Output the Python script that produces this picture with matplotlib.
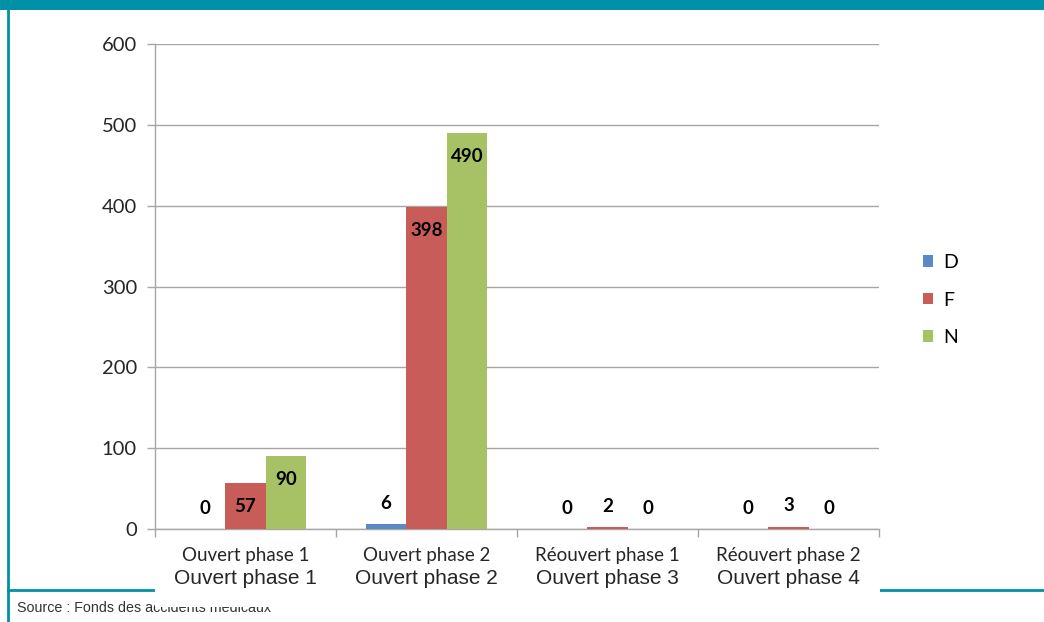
import matplotlib
matplotlib.use("Agg")
import matplotlib.pyplot as plt
from matplotlib.patches import Rectangle
from matplotlib.lines import Line2D
import numpy as np

# series per category
categories_top = ["Ouvert phase 1", "Ouvert phase 2", "Réouvert phase 1", "Réouvert phase 2"]
categories_bottom = ["Ouvert phase 1", "Ouvert phase 2", "Ouvert phase 3", "Ouvert phase 4"]
series_names = ["D", "F", "N"]
values_d = [0, 6, 0, 0]
values_f = [57, 398, 2, 3]
values_n = [90, 490, 0, 0]
y_ticks = [0, 100, 200, 300, 400, 500, 600]
source_text = "Source : Fonds des accidents médicaux"

colors = ["#5A8AC6", "#C75C59", "#A6C265"]
teal = "#0090A8"
grid_gray = "#A6A6A6"
W, H = 1044, 622

fig = plt.figure(figsize=(W / 100, H / 100), dpi=100)
fig.patch.set_facecolor("white")


def fx(px):
    return px / W


def fy(py):
    return 1 - py / H


# frame decoration: top band, left rule, bottom rule
fig.add_artist(Rectangle((0, fy(10)), 1, 10 / H, transform=fig.transFigure,
                         facecolor=teal, edgecolor="none", zorder=0))
fig.add_artist(Line2D([fx(7.5), fx(7.5)], [0, 1], transform=fig.transFigure,
                      color=teal, lw=2, zorder=0))
fig.add_artist(Line2D([fx(7.5), 1], [fy(590), fy(590)], transform=fig.transFigure,
                      color=teal, lw=2, zorder=0))

ax = fig.add_axes([fx(155), fy(529), fx(879) - fx(155), fy(44) - fy(529)])
ax.set_facecolor("none")

x = np.arange(len(categories_top))
width = 0.224
all_series = [values_d, values_f, values_n]
offsets = [-width, 0, width]

for vals, off, col, name in zip(all_series, offsets, colors, series_names):
    bars = ax.bar(x + off, vals, width, color=col, label=name, zorder=3)
    for rect, v in zip(bars, vals):
        cx = rect.get_x() + rect.get_width() / 2
        # tall bars get the value inside the top, short ones just above
        dy = -17 if v >= 30 else 15
        ax.annotate(str(v), (cx, v), xytext=(0, dy), textcoords="offset points",
                    ha="center", va="center", fontsize=13.5, fontweight="bold",
                    family="Lato", color="black", zorder=5)

ax.set_xlim(-0.5, 3.5)
ax.set_ylim(0, 600)
ax.set_yticks(y_ticks)
ax.set_yticklabels([str(t) for t in y_ticks], family="Lato", fontsize=14.5, color="#262626")
ax.yaxis.grid(True, color=grid_gray, lw=1, zorder=0)
ax.set_axisbelow(True)

ax.set_xticks(np.arange(-0.5, 4, 1))
ax.set_xticklabels([])
ax.tick_params(axis="x", direction="out", length=6, color=grid_gray, width=1)
ax.tick_params(axis="y", direction="out", length=6, color=grid_gray, width=1, pad=7)

for side in ["top", "right"]:
    ax.spines[side].set_visible(False)
for side in ["left", "bottom"]:
    ax.spines[side].set_color(grid_gray)
    ax.spines[side].set_linewidth(1)

# white panel behind the category labels
fig.add_artist(Rectangle((fx(155), fy(607)), fx(880) - fx(155), (607 - 540) / H,
                         transform=fig.transFigure, facecolor="white",
                         edgecolor="none", zorder=2))

for i, (top, bottom) in enumerate(zip(categories_top, categories_bottom)):
    xf = fx(155 + (i + 0.5) * 181)
    fig.text(xf, fy(556), top, ha="center", va="center", family="Lato",
             fontsize=13.5, color="#262626", zorder=4)
    fig.text(xf, fy(578), bottom, ha="center", va="center", family="Liberation Sans",
             fontsize=15, color="#262626", zorder=4)

fig.text(fx(17), fy(608), source_text, ha="left", va="center",
         family="Liberation Sans", fontsize=10.3, color="#333333", zorder=1)

leg = ax.legend(loc="center left", bbox_to_anchor=(fx(905), fy(300)),
                bbox_transform=fig.transFigure, frameon=False,
                prop={"family": "Lato", "size": 14}, handlelength=0.55,
                handleheight=0.55, handletextpad=0.5, labelspacing=1.05)

fig.savefig("out.png", dpi=100)
